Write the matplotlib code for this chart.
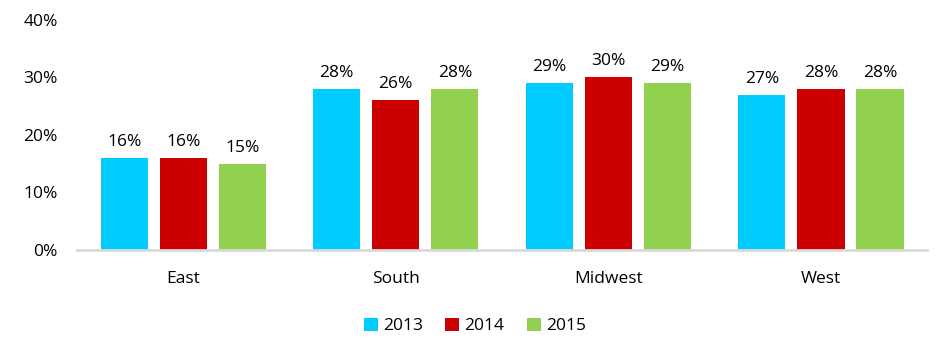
import numpy as np
import matplotlib.pyplot as plt

plt.rcParams['font.family'] = ['Open Sans', 'DejaVu Sans']

regions = ["East", "South", "Midwest", "West"]
years = ["2013", "2014", "2015"]
v2013 = [16, 28, 29, 27]
v2014 = [16, 26, 30, 28]
v2015 = [15, 28, 29, 28]
colors = ["#00CCFF", "#CC0000", "#92D050"]

fig = plt.figure(figsize=(9.5, 3.55), dpi=100)
ax = fig.add_axes([0.081, 0.296, 0.895, 0.648])

fs = 12.5
x = np.arange(len(regions))
w = 0.222
step = 0.278
for k, (vals, yr, c) in enumerate(zip([v2013, v2014, v2015], years, colors)):
    pos = x + (k - 1) * step
    ax.bar(pos, vals, w, color=c, label=yr)
    for p, v in zip(pos, vals):
        ax.text(p, v + 1.4, f"{v}%", ha="center", va="bottom", fontsize=fs, color="#000000")

ax.set_xlim(-0.5, 3.5)
ax.set_ylim(0, 40)
ax.set_yticks([0, 10, 20, 30, 40])
ax.set_yticklabels([f"{t}%" for t in [0, 10, 20, 30, 40]], fontsize=fs)
ax.set_xticks(x)
ax.set_xticklabels(regions, fontsize=fs)
ax.tick_params(axis="both", length=0)
ax.tick_params(axis="x", pad=15)
ax.tick_params(axis="y", pad=14)
for s in ["top", "right", "left"]:
    ax.spines[s].set_visible(False)
ax.spines["bottom"].set_color("#D9D9D9")
ax.spines["bottom"].set_linewidth(2)

fig.legend(loc="center", bbox_to_anchor=(0.5, 0.082), ncol=3, frameon=False,
           fontsize=fs, handlelength=0.8, handleheight=0.8, handletextpad=0.3,
           columnspacing=1.3)

fig.savefig("out.png", dpi=100)
